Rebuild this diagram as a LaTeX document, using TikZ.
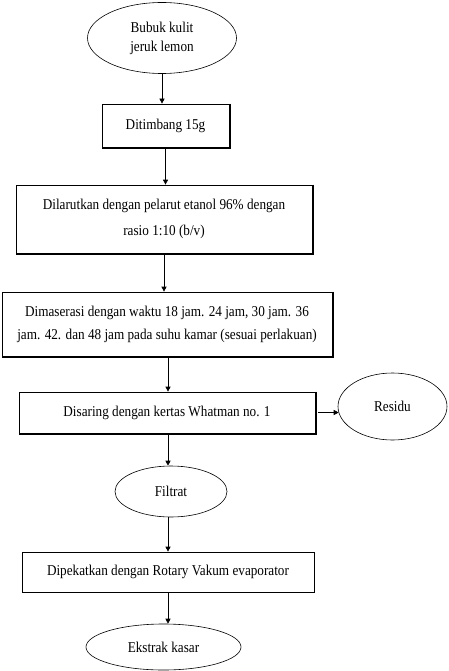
\documentclass[tikz,border=0pt]{standalone}
\usepackage{fontspec}
\setmainfont{Liberation Serif}[FakeStretch=0.88]
\usetikzlibrary{shapes.geometric,arrows.meta}
\begin{document}
\begin{tikzpicture}[x=1pt,y=-1pt,
  font=\fontsize{15}{20}\selectfont,
  stepbox/.style={draw, line width=0.7pt, rectangle, align=center, inner sep=0pt},
  oval/.style={draw, line width=0.6pt, ellipse, align=center, inner sep=0pt},
  arr/.style={-{Triangle[length=5pt,width=5pt]}, line width=0.7pt}]
\useasboundingbox (0,0) rectangle (448,671);
\node[oval, minimum width=149, minimum height=71] (a) at (162,38) {Bubuk kulit\\[-1pt]jeruk lemon};
\node[stepbox, minimum width=127, minimum height=43] (b) at (165.5,125.5) {Ditimbang 15g};
\node[stepbox, minimum width=296, minimum height=68, font=\fontsize{15}{26}\selectfont] (c) at (164,219) {Dilarutkan dengan pelarut etanol 96\% dengan\\rasio 1:10 (b/v)};
\node[stepbox, minimum width=330, minimum height=64, font=\fontsize{15}{23}\selectfont] (d) at (167,324) {Dimaserasi dengan waktu 18 jam. 24 jam, 30 jam. 36\\jam. 42. dan 48 jam pada suhu kamar (sesuai perlakuan)};
\node[stepbox, minimum width=296, minimum height=41] (e) at (167,412.5) {Disaring dengan kertas Whatman no. 1};
\node[oval, minimum width=109, minimum height=67] (r) at (392.5,406.5) {Residu};
\node[oval, minimum width=112, minimum height=51] (f) at (171,491.5) {Filtrat};
\node[stepbox, minimum width=292, minimum height=40] (g) at (168,572) {Dipekatkan dengan Rotary Vakum evaporator};
\node[oval, minimum width=155, minimum height=46] (h) at (163.5,647) {Ekstrak kasar};
% thicker right/bottom edges
\foreach \n in {b,c,d,e}{
  \draw[line width=0.8pt] ([xshift=0.7pt]\n.north east) -- ([xshift=0.7pt,yshift=-0.7pt]\n.south east) -- ([yshift=-0.7pt]\n.south west);
}
\coordinate (rin) at ([xshift=1pt]r.west |- e.east);
\draw[arr] (a.south) -- (a.south |- b.north);
\draw[arr] (b.south) -- (c.north -| b.south);
\draw[arr] (c.south) -- (d.north -| c.south);
\draw[arr] (d.south -| 168,0) -- (e.north -| 168,0);
\draw[arr] ([xshift=3pt]e.east) -- (rin);
\draw[arr] (e.south -| 168,0) -- (f.north -| 168,0);
\draw[arr] (f.south -| 168,0) -- (g.north -| 168,0);
\draw[arr] (g.south -| 168,0) -- (h.north -| 168,0);
\end{tikzpicture}
\end{document}
